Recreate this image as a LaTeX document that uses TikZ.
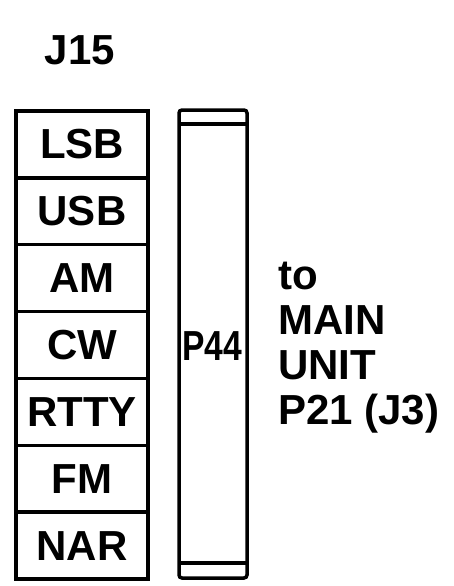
\documentclass[tikz,border=0pt]{standalone}
\usepackage{fontspec}
\setmainfont{Liberation Sans}
\begin{document}
\begin{tikzpicture}[x=1pt,y=1pt,
  lbl/.style={font=\fontsize{42}{45}\selectfont\bfseries},
  row/.style={draw,line width=3.5pt,minimum width=132pt,minimum height=66.86pt,inner sep=0pt,lbl},
  conn/.style={draw,line width=3.5pt,rounded corners=3pt}]
\useasboundingbox (0,0) rectangle (453,-586);
\node[lbl,anchor=base] (j15) at (80,-65) {J15};
\foreach \t [count=\i from 0] in {LSB,USB,AM,CW,RTTY,FM,NAR}{
  \node[row] (r\i) at (82,-111-66.86*\i-33.43) {\t};
}
\draw[conn] (179,-110) rectangle (247,-578);
\coordinate (ctl) at (179,-124);
\coordinate (ctr) at (247,-124);
\coordinate (cbl) at (179,-563);
\coordinate (cbr) at (247,-563);
\draw[line width=3.5pt] (ctl) -- (ctr);
\draw[line width=3.5pt] (cbl) -- (cbr);
\node[lbl,xscale=0.8,transform shape,inner sep=0pt] (p44) at (212,-346) {P44};
\node[lbl,anchor=north west,align=left,inner sep=0pt] (dest) at (278,-262) {to\\MAIN\\UNIT\\P21 (J3)};
\end{tikzpicture}
\end{document}
